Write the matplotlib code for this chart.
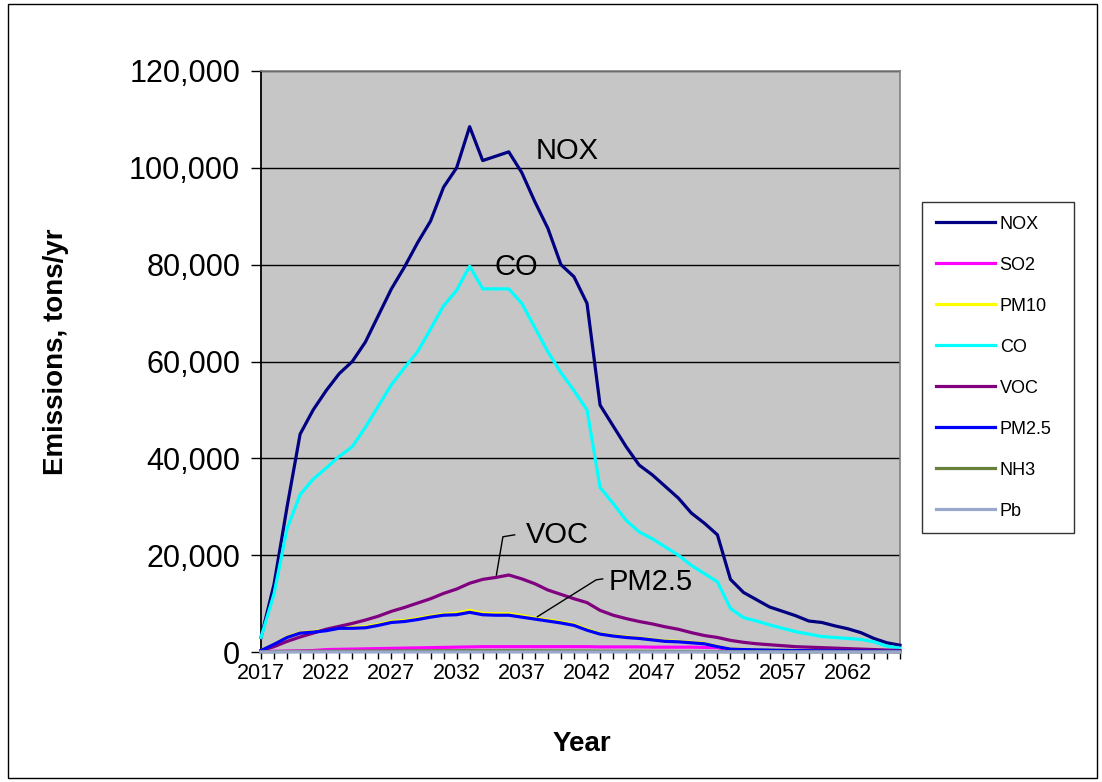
import matplotlib
matplotlib.use("Agg")
import matplotlib.pyplot as plt
from matplotlib.patches import Rectangle
from matplotlib.ticker import FuncFormatter, MultipleLocator

plt.rcParams['font.family'] = ['Liberation Sans', 'DejaVu Sans']

years = list(range(2017, 2067))
tick_labels = ['2017', '2022', '2027', '2032', '2037', '2042', '2047', '2052', '2057', '2062']

nox = [3000, 14000, 30000, 45000, 50000, 54000, 57500, 60000, 64000, 69500,
       75000, 79500, 84500, 89000, 96000, 100000, 108500, 101500, 102400, 103300,
       99000, 93000, 87500, 80000, 77500, 72000, 51000, 46700, 42400, 38600,
       36600, 34200, 31800, 28700, 26600, 24200, 15000, 12300, 10800, 9300,
       8400, 7500, 6400, 6100, 5400, 4800, 4000, 2800, 1900, 1400]
so2 = [100, 150, 200, 250, 300, 500, 550, 600, 650, 700,
       750, 800, 850, 900, 950, 1000, 1050, 1100, 1100, 1100,
       1100, 1100, 1100, 1100, 1100, 1100, 1050, 1050, 1050, 1050,
       1000, 1000, 1000, 1000, 950, 900, 400, 350, 300, 280,
       250, 220, 200, 180, 160, 150, 130, 120, 100, 80]
pm10 = [300, 1650, 3100, 4000, 4200, 4600, 5200, 5100, 5200, 5700,
        6300, 6500, 6900, 7400, 7800, 8000, 8600, 8000, 7900, 7900,
        7500, 7000, 6600, 6200, 5700, 4700, 3800, 3400, 3100, 2900,
        2600, 2300, 2200, 2000, 1800, 1150, 650, 520, 470, 420,
        370, 320, 300, 280, 250, 230, 210, 190, 160, 130]
co = [3000, 12000, 25500, 32500, 35700, 38000, 40400, 42400, 46400, 50800,
      55200, 58700, 62000, 66700, 71500, 74700, 79700, 75000, 75000, 75000,
      72000, 67000, 62000, 57700, 54000, 50000, 34000, 30700, 27200, 24800,
      23400, 21700, 20000, 17900, 16200, 14500, 9000, 7100, 6400, 5600,
      4900, 4200, 3700, 3200, 3000, 2800, 2600, 2100, 1200, 800]
voc = [300, 1100, 2200, 3100, 3900, 4700, 5300, 5900, 6600, 7400,
       8400, 9200, 10100, 11000, 12100, 13000, 14200, 15000, 15400, 15900,
       15100, 14100, 12800, 11900, 11000, 10200, 8600, 7600, 6900, 6300,
       5800, 5200, 4700, 4000, 3400, 3000, 2400, 2000, 1700, 1500,
       1300, 1100, 1000, 900, 800, 700, 600, 500, 400, 300]
pm25 = [300, 1600, 3000, 3900, 4100, 4400, 4900, 4900, 5000, 5500,
        6100, 6300, 6700, 7200, 7600, 7700, 8200, 7700, 7600, 7600,
        7200, 6800, 6400, 6000, 5500, 4500, 3700, 3300, 3000, 2800,
        2500, 2200, 2100, 1900, 1700, 1100, 600, 500, 450, 400,
        350, 300, 280, 260, 240, 220, 200, 180, 150, 120]
nh3 = [20, 60, 100, 130, 150, 160, 170, 180, 190, 200,
       210, 220, 230, 240, 250, 260, 270, 260, 260, 260,
       250, 240, 230, 220, 210, 200, 170, 160, 150, 140,
       130, 120, 110, 100, 90, 80, 60, 50, 45, 40,
       35, 30, 28, 26, 24, 22, 20, 18, 15, 12]
pb = [1, 2, 3, 3, 4, 4, 4, 5, 5, 5,
      5, 5, 6, 6, 6, 6, 6, 6, 6, 6,
      6, 6, 5, 5, 5, 5, 4, 4, 4, 4,
      3, 3, 3, 3, 3, 3, 2, 2, 2, 2,
      2, 2, 1, 1, 1, 1, 1, 1, 1, 1]

series = [
    ('NOX', nox, '#000080'),
    ('SO2', so2, '#FF00FF'),
    ('PM10', pm10, '#FFFF00'),
    ('CO', co, '#00FFFF'),
    ('VOC', voc, '#800080'),
    ('PM2.5', pm25, '#0000FF'),
    ('NH3', nh3, '#667F3A'),
    ('Pb', pb, '#99A8CC'),
]

W, H = 1102, 782
fig = plt.figure(figsize=(W / 100, H / 100), dpi=100)
fig.patch.set_facecolor('white')

L, R, T, B = 261, 900, 71, 652
ax = fig.add_axes([L / W, 1 - B / H, (R - L) / W, (B - T) / H])
ax.set_facecolor('#C6C6C6')

handles = []
for name, vals, col in series:
    ln, = ax.plot(years, vals, color=col, lw=2.3, label=name, clip_on=False,
                  solid_joinstyle='round', zorder=3)
    handles.append(ln)

ax.set_xlim(2017, 2066)
ax.set_ylim(0, 120000)
ax.yaxis.set_major_locator(MultipleLocator(20000))
ax.yaxis.set_major_formatter(FuncFormatter(lambda v, p: f'{int(v):,}'))
ax.grid(axis='y', color='black', lw=1.0, zorder=1)
ax.set_axisbelow(True)

ax.set_xticks(years)
ax.set_xticklabels([str(y) if str(y) in tick_labels else '' for y in years])
ax.tick_params(axis='x', direction='out', length=5, width=1.0, labelsize=15.5, pad=3)
ax.tick_params(axis='y', direction='out', length=7, width=1.0, labelsize=22, pad=8)

for s in ['left', 'bottom']:
    ax.spines[s].set_color('black')
    ax.spines[s].set_linewidth(1.3)
for s in ['top', 'right']:
    ax.spines[s].set_color('#808080')
    ax.spines[s].set_linewidth(1.2)

ax.set_ylabel('Emissions, tons/yr', fontsize=20, fontweight='bold')
ax.yaxis.set_label_coords(-0.300, 0.517)
ax.set_xlabel('Year', fontsize=20, fontweight='bold')
ax.xaxis.set_label_coords(0.502, -0.136)

# series labels
ax.text(2040.5, 103500, 'NOX', fontsize=21, ha='center', va='center', zorder=5)
ax.text(2036.6, 79500, 'CO', fontsize=21, ha='center', va='center', zorder=5)
ax.text(2039.7, 24200, 'VOC', fontsize=21, ha='center', va='center', zorder=5)
ax.text(2046.9, 14500, 'PM2.5', fontsize=21, ha='center', va='center', zorder=5)
ax.plot([2035.05, 2035.55, 2036.45], [15900, 23800, 24200], color='black', lw=1.0, zorder=5)
ax.plot([2038.2, 2042.7, 2043.2], [7300, 14900, 15100], color='black', lw=1.0, zorder=5)

leg = fig.legend(handles, [s[0] for s in series], loc='upper left',
                 bbox_to_anchor=(922 / W, 1 - 530 / H, 152 / W, 328 / H), mode='expand',
                 frameon=True, fancybox=False,
                 edgecolor='black', fontsize=13, handlelength=3.3, handletextpad=0.25,
                 labelspacing=1.33, borderpad=0.75, borderaxespad=0)
leg.get_frame().set_linewidth(1.0)

fig.add_artist(Rectangle((8 / W, 1 - 778 / H), (1097 - 8) / W, (778 - 4) / H,
                         transform=fig.transFigure, fill=False, edgecolor='black', lw=1.0))

fig.savefig('out.png', dpi=100)
